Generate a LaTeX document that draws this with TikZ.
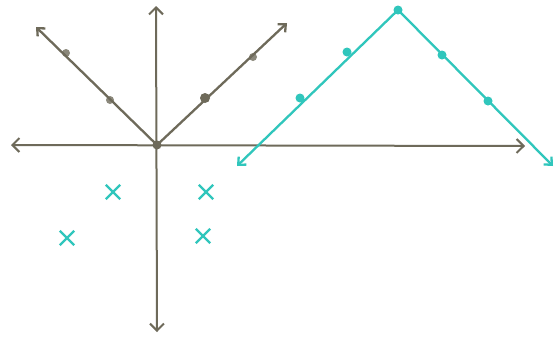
\documentclass[tikz,border=0pt]{standalone}
\usetikzlibrary{arrows.meta,shapes.misc}
\definecolor{pencil}{RGB}{110,106,90}
\definecolor{aqua}{RGB}{48,198,188}
\begin{document}
\begin{tikzpicture}[x=1pt,y=-1pt,
    axis/.style={draw=pencil, line width=2pt, {Straight Barb[length=7pt,width=14pt]}-{Straight Barb[length=7pt,width=14pt]}},
    graph/.style={draw=#1, line width=2.3pt, {Straight Barb[length=6pt,width=11pt]}-{Straight Barb[length=6pt,width=11pt]}},
    dot/.style={circle, fill=#1, inner sep=0pt, minimum size=9pt}]
    \useasboundingbox[fill=white] (0,0) rectangle (560,338);
    
    % axes
    \coordinate (xl) at (11,145);
    \coordinate (xr) at (525,146);
    \coordinate (yt) at (156,6);
    \coordinate (yb) at (157,332);
    \draw[axis] (xl) -- (xr);
    \draw[axis] (yb) -- (yt);
    
    % grey V
    \coordinate (gl) at (36,27);
    \coordinate (gr) at (287,23);
    \node[dot=pencil] (g0) at (157,145) {};
    \node[dot=pencil!80, minimum size=8pt] (g1) at (66,53) {};
    \node[dot=pencil!80, minimum size=8pt] (g2) at (110,100) {};
    \node[dot=pencil, minimum size=10pt] (g3) at (205,98) {};
    \node[dot=pencil!80, minimum size=8pt] (g4) at (253,57) {};
    \draw[graph=pencil] (gl) -- (g0.center) -- (gr);
    
    % teal tent
    \coordinate (tl) at (237,166);
    \coordinate (tr) at (553,166);
    \node[dot=aqua] (t0) at (398,10) {};
    \node[dot=aqua] (t1) at (300,98) {};
    \node[dot=aqua] (t2) at (347,52) {};
    \node[dot=aqua] (t3) at (442,55) {};
    \node[dot=aqua] (t4) at (488,101) {};
    \draw[graph=aqua] (tl) -- (t0.center) -- (tr);
    
    % crosses
    \foreach \n/\p in {c1/{(113,192)}, c2/{(206,192)}, c3/{(67,238)}, c4/{(203,236)}}
        \node[cross out, draw=aqua, line width=2.4pt, minimum size=12pt, inner sep=0pt] (\n) at \p {};
\end{tikzpicture}
\end{document}
